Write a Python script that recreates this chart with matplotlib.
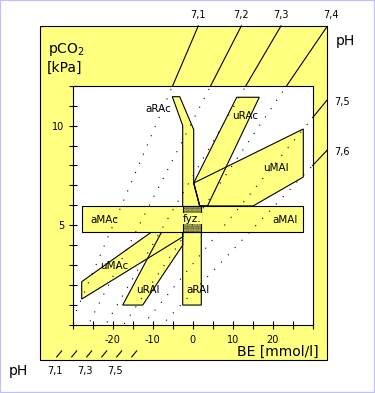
import matplotlib
matplotlib.use('Agg')
import matplotlib.pyplot as plt
from matplotlib.patches import Polygon, Rectangle

plt.rcParams['font.family'] = ['DejaVu Sans']

YELLOW = '#ffff80'
BORDER = '#c0c0f8'

# ---- axes ----
x_ticks = list(range(-30, 31, 5))
x_ticklabels = [str(v) if v in (-20, -10, 0, 10, 20) else '' for v in x_ticks]
y_ticks = list(range(0, 13))
y_ticklabels = [str(v) if v in (5, 10) else '' for v in y_ticks]

# ---- pH isolines (entry point into the white field, base point at bottom scale) ----
ph_labels = ['7,1', '7,2', '7,3', '7,4', '7,5', '7,6']
ph_label_side = ['top', 'top', 'top', 'top', 'right', 'right']
ph_entry_be = [-5.0, 4.5, 13.3, 23.5, 30.0, 30.0]
ph_entry_pco2 = [12.0, 12.0, 12.0, 12.0, 10.4, 8.0]
ph_base_be = [-34.0, -30.25, -26.5, -22.75, -19.0, -15.25]
ph_base_pco2 = -1.6
ph_bottom_labels = ['7,1', '', '7,3', '', '7,5', '']

# ---- regions ----
aRA_be = [-5.1, -3.25, 0.25, 0.25, 1.75, 2.15, 2.15, -2.5, -2.5]
aRA_pco2 = [11.45, 11.45, 9.8, 7.15, 5.97, 5.97, 1.0, 1.0, 10.0]
uRAc_be = [11.0, 16.65, 3.7, 1.75, 0.25]
uRAc_pco2 = [11.42, 11.42, 5.97, 5.97, 7.12]
uMAl_be = [0.25, 27.65, 27.65, 15.1, 1.75]
uMAl_pco2 = [7.12, 9.83, 7.42, 5.97, 5.97]
uMAc_be = [-27.75, -27.75, -2.5, -2.5, -10.25]
uMAc_pco2 = [2.17, 1.3, 4.42, 4.67, 4.67]
uRAl_be = [-17.5, -12.5, -2.5, -2.5, -7.75]
uRAl_pco2 = [1.0, 1.0, 4.0, 4.67, 4.67]
band_be = [-27.7, 27.6]
band_pco2 = [4.67, 5.97]
fyz_be = [-2.5, 2.15]

label_text = ['aRAc', 'uRAc', 'uMAl', 'aMAc', 'aMAl', 'uMAc', 'uRAl', 'aRAl']
label_be = [-8.7, 13.1, 20.7, -22.05, 23.1, -19.55, -11.2, 1.3]
label_pco2 = [10.85, 10.5, 7.85, 5.25, 5.25, 2.95, 1.75, 1.75]

FRAME_BE = (-38.2, 33.6)
FRAME_PCO2 = (-1.75, 15.0)

W, H = 375, 393
fig = plt.figure(figsize=(W / 100, H / 100), dpi=100)
fig.patch.set_facecolor('white')
fig.patches.append(Rectangle((0, 0), 1, 1, transform=fig.transFigure, fill=False,
                             edgecolor=BORDER, linewidth=1.6, zorder=5))

ax = fig.add_axes([72.7 / W, 1 - 325 / H, 240 / W, 239.3 / H])
ax.set_facecolor('none')
ax.set_xlim(-30, 30)
ax.set_ylim(0, 12)

# yellow frame and white field
ax.add_patch(Rectangle((FRAME_BE[0], FRAME_PCO2[0]), FRAME_BE[1] - FRAME_BE[0],
                       FRAME_PCO2[1] - FRAME_PCO2[0], facecolor=YELLOW, edgecolor='black',
                       linewidth=0.8, clip_on=False, zorder=0.1))
ax.add_patch(Rectangle((-30, 0), 60, 12, facecolor='white', edgecolor='none', zorder=0.2))

# region fills then outlines
polys = [(aRA_be, aRA_pco2), (uRAc_be, uRAc_pco2), (uMAl_be, uMAl_pco2),
         (uMAc_be, uMAc_pco2), (uRAl_be, uRAl_pco2)]
for bx, by in polys:
    ax.add_patch(Polygon(list(zip(bx, by)), closed=True, facecolor=YELLOW, edgecolor='none', zorder=1))
for bx, by in polys:
    ax.add_patch(Polygon(list(zip(bx, by)), closed=True, facecolor='none', edgecolor='black',
                         linewidth=0.8, zorder=1.5))
ax.add_patch(Rectangle((band_be[0], band_pco2[0]), band_be[1] - band_be[0], band_pco2[1] - band_pco2[0],
                       facecolor=YELLOW, edgecolor='black', linewidth=0.8, zorder=2))
plt.rcParams['hatch.linewidth'] = 0.8
ax.add_patch(Rectangle((fyz_be[0], band_pco2[0]), fyz_be[1] - fyz_be[0], band_pco2[1] - band_pco2[0],
                       facecolor=YELLOW, edgecolor='black', hatch='..........', linewidth=0.8, zorder=2.1))

# pH isolines
for i, lab in enumerate(ph_labels):
    ex, ey = ph_entry_be[i], ph_entry_pco2[i]
    bx, by = ph_base_be[i], ph_base_pco2
    dx, dy = ex - bx, ey - by
    ax.plot([bx, ex], [by, ey], color='black', linewidth=0.8, linestyle=(0, (1, 8)), zorder=2.3)
    t_top = (FRAME_PCO2[1] - ey) / dy
    t_right = (FRAME_BE[1] - ex) / dx
    t = min(t_top, t_right)
    fx, fy = ex + t * dx, ey + t * dy
    ax.plot([ex, fx], [ey, fy], color='black', linewidth=0.8, clip_on=False, zorder=2.3)
    if ph_label_side[i] == 'top':
        ax.annotate(lab, (fx, FRAME_PCO2[1]), xytext=(2.5 if i == 3 else 0, 4), textcoords='offset points',
                    ha='center', va='bottom', fontsize=7, annotation_clip=False)
    else:
        ax.annotate(lab, (fx, fy), xytext=(5, -1.5), textcoords='offset points',
                    ha='left', va='center', fontsize=7, annotation_clip=False)
    # bottom scale slash
    ax.plot([bx, bx + 1.25], [by, by + 0.3], color='black', linewidth=0.8, clip_on=False, zorder=2.3)
    if ph_bottom_labels[i]:
        ax.text(bx - 0.4, -2.3, ph_bottom_labels[i], ha='center', va='center', fontsize=7, clip_on=False)

# region labels
for txt, bx, by in zip(label_text, label_be, label_pco2):
    ax.text(bx, by, txt, ha='center', va='center', fontsize=7.5, zorder=3)
ax.text(sum(fyz_be) / 2, sum(band_pco2) / 2, 'fyz.', ha='center', va='center', fontsize=7.5, zorder=3,
        bbox=dict(facecolor=YELLOW, edgecolor='none', pad=0.3))

# axes styling
ax.set_xticks(x_ticks)
ax.set_xticklabels(x_ticklabels)
ax.set_yticks(y_ticks)
ax.set_yticklabels(y_ticklabels)
ax.tick_params(axis='both', direction='inout', length=6, width=0.8, labelsize=7)
ax.tick_params(axis='x', pad=4)
ax.tick_params(axis='y', pad=3)
for s in ax.spines.values():
    s.set_linewidth(0.8)
    s.set_zorder(4)

# axis titles
fig.text(48.3 / W, 1 - 53.5 / H, r'pCO$_2$', fontsize=10, ha='left', va='baseline')
fig.text(46.7 / W, 1 - 72 / H, '[kPa]', fontsize=10, ha='left', va='baseline')
fig.text(336 / W, 1 - 45 / H, 'pH', fontsize=10, ha='left', va='baseline')
fig.text(319 / W, 1 - 356 / H, 'BE [mmol/l]', fontsize=10, ha='right', va='baseline')
fig.text(8.3 / W, 1 - 375 / H, 'pH', fontsize=10, ha='left', va='baseline')

fig.savefig('out.png', dpi=100)
